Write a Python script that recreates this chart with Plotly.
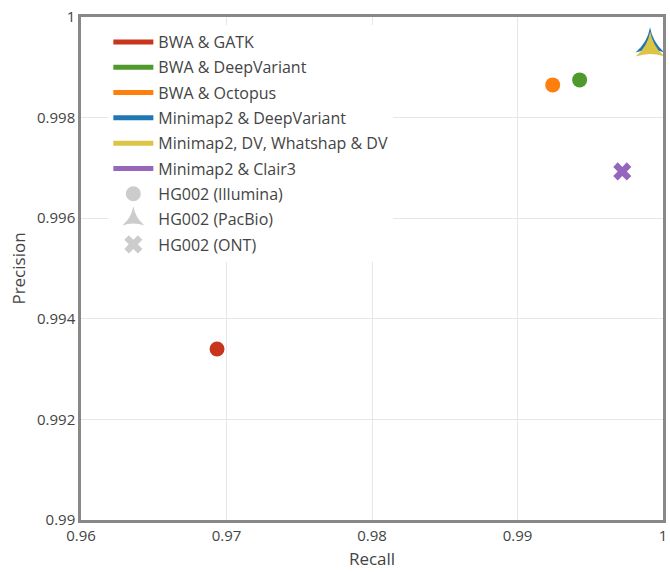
import plotly.graph_objects as go

methods = ["BWA & GATK", "BWA & DeepVariant", "BWA & Octopus",
           "Minimap2 & DeepVariant", "Minimap2, DV, Whatshap & DV", "Minimap2 & Clair3"]
colors = ["#c8341c", "#4f9a2c", "#ff7f0e", "#1f77b4", "#dcc446", "#9467bd"]
datasets = ["HG002 (Illumina)", "HG002 (Illumina)", "HG002 (Illumina)",
            "HG002 (PacBio)", "HG002 (PacBio)", "HG002 (ONT)"]
recall = [0.96935, 0.99427, 0.99242, 0.99911, 0.99912, 0.99720]
precision = [0.99340, 0.99875, 0.99865, 0.99946, 0.99938, 0.99693]

dataset_names = ["HG002 (Illumina)", "HG002 (PacBio)", "HG002 (ONT)"]
symbols = {"HG002 (Illumina)": "circle", "HG002 (PacBio)": "star-triangle-up",
           "HG002 (ONT)": "x"}
sizes = {"HG002 (Illumina)": 15, "HG002 (PacBio)": 21, "HG002 (ONT)": 16}

x_ticks = [0.96, 0.97, 0.98, 0.99, 1.0]
x_labels = ["0.96", "0.97", "0.98", "0.99", "1"]
y_ticks = [0.99, 0.992, 0.994, 0.996, 0.998, 1.0]
y_labels = ["0.99", "0.992", "0.994", "0.996", "0.998", "1"]

fig = go.Figure()
for m, c, d, r, p in zip(methods, colors, datasets, recall, precision):
    fig.add_trace(go.Scatter(x=[r], y=[p], mode="markers", showlegend=False,
                             name=m, marker=dict(color=c, symbol=symbols[d],
                                                 size=sizes[d], line=dict(width=0))))
for i, (m, c) in enumerate(zip(methods, colors)):
    fig.add_trace(go.Scatter(x=[None], y=[None], mode="lines", name=m,
                             legendgroup=f"g{i}",
                             line=dict(color=c, width=5)))
for j, d in enumerate(dataset_names):
    fig.add_trace(go.Scatter(x=[None], y=[None], mode="markers", name=d,
                             legendgroup=f"h{j}",
                             marker=dict(color="#cccccc", symbol=symbols[d],
                                         size=sizes[d], line=dict(width=0))))

fig.update_layout(
    width=670, height=572,
    margin=dict(l=81, r=4, t=17, b=52),
    paper_bgcolor="white", plot_bgcolor="white",
    font=dict(family="Open Sans", color="#444", size=15),
    legend=dict(x=0.047, y=0.984, xanchor="left", yanchor="top",
                bgcolor="white", font=dict(size=16, color="#444"),
                itemwidth=40, traceorder="grouped", tracegroupgap=1.5),
    xaxis=dict(title=dict(text="Recall", font=dict(size=17), standoff=10),
               range=[0.96, 1.0], tickvals=x_ticks, ticktext=x_labels,
               showgrid=True, gridcolor="#e6e6e6", zeroline=False,
               showline=True, linecolor="#888", linewidth=2.5, mirror=True,
               ticks="", tickfont=dict(size=15)),
    yaxis=dict(title=dict(text="Precision", font=dict(size=17), standoff=8),
               range=[0.99, 1.0], tickvals=y_ticks, ticktext=y_labels,
               showgrid=True, gridcolor="#e6e6e6", zeroline=False,
               showline=True, linecolor="#888", linewidth=2.5, mirror=True,
               ticks="", tickfont=dict(size=15)),
)
fig.write_html("out.html", config={"displayModeBar": False},
               post_script="document.body.style.margin='0';")
